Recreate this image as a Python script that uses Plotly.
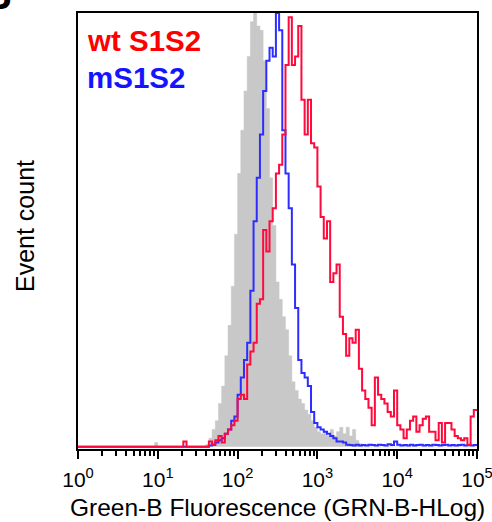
import numpy as np
import plotly.graph_objects as go

# ---------------- data (percent of max, 0.04-decade bins from 10^0 to 10^5) ----------------
control_gray = [
    0, 0, 0, 0, 0, 0, 0, 0, 0, 0,
    0, 0, 0, 0, 0, 0, 0, 0, 0, 0,
    0, 0, 0, 0, 1, 0, 0, 0, 0, 0,
    0, 0, 0, 0, 0, 0, 0, 0, 0, 0,
    0.5, 2, 4, 6, 10, 14, 21, 28, 37, 49,
    63, 73, 82, 90, 98, 100, 97, 96, 89, 78,
    62, 51, 38, 34, 30, 27, 21, 15, 13, 11,
    10, 8.5, 7.5, 6, 4.5, 3.5, 3, 3.5, 2.5, 4,
    2.5, 3.5, 4.5, 3, 4.5, 2.5, 4, 1.5, 0.7, 0,
    0, 0, 0, 0, 0, 0, 0, 0, 0, 0,
    0, 0, 0, 0, 0, 0.5, 0, 0, 0, 0,
    0, 0, 0, 0, 0, 0, 0, 0, 0, 0.5,
    0, 0, 0, 0, 0,
]

ms1s2_blue = [
    0, 0, 0, 0, 0, 0, 0, 0, 0, 0,
    0, 0, 0, 0, 0, 0, 0, 0, 0, 0,
    0, 0, 0, 0, 0, 0, 0, 0, 0, 0,
    0, 0, 0, 0, 0, 0, 0, 0, 0, 0,
    0, 0.3, 0.5, 1, 1.5, 2, 3, 4, 6, 7,
    12, 16, 20, 24, 36, 52, 62, 72, 82, 89,
    92, 90, 100, 96, 73, 63, 55, 42, 32, 20,
    17, 16, 14, 8, 5.5, 4.5, 4, 3.5, 3, 2.5,
    2, 1.2, 1.2, 1, 0.5, 0.4, 0.3, 0.5, 0.3, 0.4,
    0.3, 0.5, 0.4, 0.3, 0.5, 0.4, 0.3, 0.6, 0.4, 1.2,
    0.5, 0.3, 0.4, 0.3, 0.5, 0.3, 0.4, 0.5, 0.3, 0.4,
    0.3, 0.5, 0.4, 0.3, 0.4, 0.5, 0.3, 0.4, 0.3, 0.4,
    0.5, 0.3, 0.4, 0.3, 0.4,
]

wt_s1s2_red = [
    0, 0, 0, 0, 0, 0, 0, 0, 0, 0,
    0, 0, 0, 0, 0, 0, 0, 0, 0, 0,
    0, 0, 0, 0, 0, 0, 0, 0, 0, 0,
    0, 0, 0, 1.2, 0, 0, 0, 0, 0, 0,
    0, 1.2, 0.5, 1.5, 2.5, 1, 3, 4, 5, 6,
    11, 12, 11, 19, 22, 24, 33, 34, 50, 45,
    52, 55, 63, 65, 72, 88, 99, 88, 90, 97,
    80, 72, 80, 70, 69, 60, 53, 48, 52, 38,
    40, 42, 30, 26, 21, 25, 24, 27, 18, 13,
    11, 9, 5, 16, 12, 11, 10, 8, 7, 13,
    5, 4, 2, 4, 6, 7, 3.5, 5, 6.5, 7,
    3.5, 3.5, 1.5, 5.5, 1, 5.5, 5.5, 4, 2.5, 2,
    1.5, 2, 0.5, 7, 8.5,
]

decade_ticks = [1, 10, 100, 1000, 10000, 100000]
decade_labels = ["10<sup>0</sup>", "10<sup>1</sup>", "10<sup>2</sup>",
                 "10<sup>3</sup>", "10<sup>4</sup>", "10<sup>5</sup>"]

# ---------------- histogram bin edges (log scale) ----------------
n_bins = len(control_gray)
edges_log = np.linspace(0, 5, n_bins + 1)
edges = 10 ** edges_log


def step_xy(values):
    xs = list(edges)
    ys = list(values) + [values[-1]]
    return xs, ys


minor_vals = [m * 10 ** k for k in range(5) for m in range(2, 10)]

fig = go.Figure()

gx, gy = step_xy(control_gray)
fig.add_trace(go.Scatter(x=gx, y=gy, mode="lines", line_shape="hv",
                         line=dict(color="rgb(200,200,200)", width=0.5),
                         fill="tozeroy", fillcolor="rgb(200,200,200)",
                         showlegend=False, hoverinfo="skip"))

bx, by = step_xy(ms1s2_blue)
fig.add_trace(go.Scatter(x=bx, y=by, mode="lines", line_shape="hv",
                         line=dict(color="rgb(45,45,255)", width=2),
                         showlegend=False))

rx, ry = step_xy(wt_s1s2_red)
fig.add_trace(go.Scatter(x=rx, y=ry, mode="lines", line_shape="hv",
                         line=dict(color="rgb(255,10,60)", width=2),
                         showlegend=False))

W, H = 492, 522
L, R, T, B = 78, 15, 13, 73
pw, ph = W - L - R, H - T - B


def px(x):
    return (x - L) / pw


def py(y):
    return (H - B - y) / ph


font_main = "Liberation Sans, Arial, sans-serif"

fig.update_layout(
    width=W, height=H,
    margin=dict(l=L, r=R, t=T, b=B, autoexpand=False),
    paper_bgcolor="white", plot_bgcolor="white",
    font=dict(family=font_main, color="black"),
    hovermode=False,
    xaxis=dict(
        type="log", range=[0, 5], automargin=False,
        tickmode="array", tickvals=decade_ticks, ticktext=decade_labels,
        ticks="outside", ticklen=8, tickwidth=2, tickcolor="black",
        tickfont=dict(size=21, family=font_main, color="black"),
        ticklabeloverflow="allow", ticklabelstandoff=3,
        showgrid=False, zeroline=False,
        showline=True, linecolor="black", linewidth=2, mirror=True,
        minor=dict(tickmode="array", tickvals=minor_vals, ticks="outside",
                   ticklen=5, tickwidth=1.5, tickcolor="black", showgrid=False),
    ),
    yaxis=dict(
        range=[-0.5, 100], showticklabels=False, ticks="", automargin=False,
        showgrid=False, zeroline=False,
        showline=True, linecolor="black", linewidth=2, mirror=True,
    ),
    annotations=[
        dict(text="<b>wt S1S2</b>", x=px(85), y=py(40), xref="paper", yref="paper",
             xanchor="left", yanchor="middle", showarrow=False,
             font=dict(size=29.5, color="rgb(255,0,0)", family=font_main)),
        dict(text="<b>mS1S2</b>", x=px(85), y=py(77), xref="paper", yref="paper",
             xanchor="left", yanchor="middle", showarrow=False,
             font=dict(size=29.5, color="rgb(20,20,255)", family=font_main)),
        dict(text="Green-B Fluorescence (GRN-B-HLog)", x=px(277), y=py(507),
             xref="paper", yref="paper", xanchor="center", yanchor="middle",
             showarrow=False, font=dict(size=24.5, color="black", family=font_main)),
        dict(text="Event count", x=px(25), y=py(226), xref="paper", yref="paper",
             xanchor="center", yanchor="middle", textangle=-90,
             showarrow=False, font=dict(size=25, color="black", family=font_main)),
        dict(text="<b>B</b>", x=px(14), y=py(19), xref="paper", yref="paper",
             xanchor="right", yanchor="bottom", showarrow=False,
             font=dict(size=40, color="black", family=font_main)),
    ],
)

fig.write_html("out.html", config={"displayModeBar": False},
               post_script="document.body.style.margin='0';document.body.style.overflow='hidden';")
